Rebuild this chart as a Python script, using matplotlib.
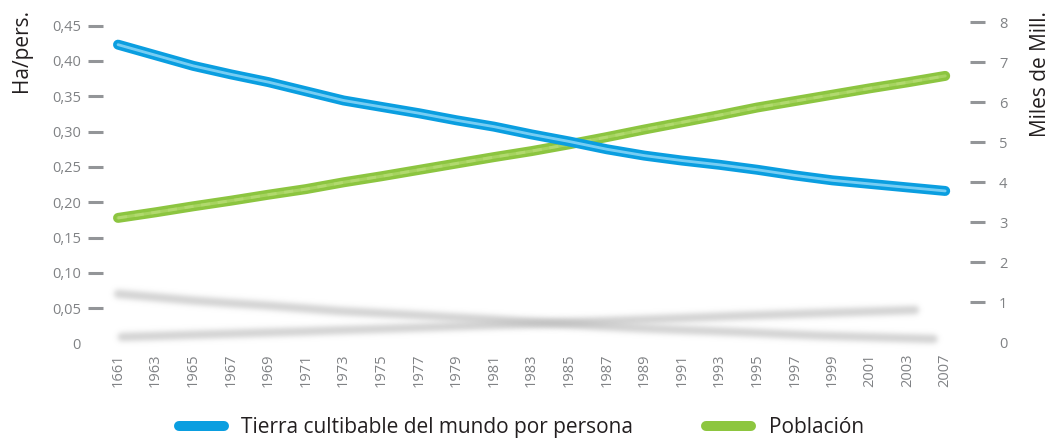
import numpy as np
import matplotlib
matplotlib.use("Agg")
import matplotlib.pyplot as plt
from matplotlib.ticker import FixedLocator, FixedFormatter
from matplotlib.lines import Line2D

plt.rcParams['font.family'] = ['Open Sans', 'DejaVu Sans']

# ---------------- data ----------------
years = ['1661', '1963', '1965', '1967', '1969', '1971', '1973', '1975', '1977',
         '1979', '1981', '1983', '1985', '1987', '1989', '1991', '1993', '1995',
         '1997', '1999', '2001', '2003', '2007']
tierra = [0.423, 0.408, 0.393, 0.381, 0.370, 0.357, 0.344, 0.335, 0.326,
          0.316, 0.307, 0.296, 0.286, 0.275, 0.266, 0.259, 0.253, 0.246,
          0.238, 0.231, 0.226, 0.221, 0.216]
poblacion = [3.11, 3.25, 3.40, 3.54, 3.69, 3.83, 4.00, 4.15, 4.31, 4.47,
             4.63, 4.78, 4.95, 5.13, 5.32, 5.50, 5.68, 5.87, 6.03, 6.19,
             6.35, 6.50, 6.66]
left_ticks = [0.05, 0.10, 0.15, 0.20, 0.25, 0.30, 0.35, 0.40, 0.45]
left_labels = ['0,05', '0,10', '0,15', '0,20', '0,25', '0,30', '0,35', '0,40', '0,45']
right_ticks = [1, 2, 3, 4, 5, 6, 7, 8]
right_labels = ['1', '2', '3', '4', '5', '6', '7', '8']
legend_labels = ['Tierra cultibable del mundo por persona', 'Población']

BLUE = '#0a9ee0'
BLUE_HI = '#8ad6f7'
GREEN = '#8cc540'
GREEN_HI = '#bde07c'
TICK = '#939598'
LABEL = '#808285'


class Blur:
    def __init__(self, sigma, rgb, peak):
        self.sigma = sigma
        self.rgb = rgb
        self.peak = peak

    def __call__(self, im, dpi):
        s = self.sigma * dpi / 100.0
        pad = int(3 * s) + 3
        a = np.pad(im[..., 3], pad)
        r = np.arange(-pad, pad + 1)
        k = np.exp(-0.5 * (r / s) ** 2)
        k /= k.sum()
        a = np.apply_along_axis(np.convolve, 0, a, k, mode='same')
        a = np.apply_along_axis(np.convolve, 1, a, k, mode='same')
        out = np.zeros(a.shape + (4,))
        out[..., 0] = self.rgb[0]
        out[..., 1] = self.rgb[1]
        out[..., 2] = self.rgb[2]
        out[..., 3] = np.clip(a * self.peak, 0, 1)
        return out, -pad, -pad


fig = plt.figure(figsize=(10.54, 4.41), dpi=100)
ax = fig.add_axes([103 / 1054, 97.4 / 441, 867 / 1054, 321.3 / 441])
ax2 = ax.twinx()
ax.set_zorder(2)
ax2.set_zorder(1)
ax.patch.set_visible(False)
ax2.patch.set_visible(False)

x = np.arange(len(years))
t = np.array(tierra)
p = np.array(poblacion)

# soft reflections
sh1, = ax.plot(x * 0.986, 0.308 * t - 0.060, color='k', lw=6, solid_capstyle='round', zorder=1)
sh1.set_agg_filter(Blur(2.6, (0.72, 0.72, 0.72), 0.62))
sh2, = ax2.plot(0.1 + x * 0.959, 0.19 * p - 0.4575, color='k', lw=6, solid_capstyle='round', zorder=1)
sh2.set_agg_filter(Blur(2.6, (0.72, 0.72, 0.72), 0.62))

# main lines
kw = dict(solid_capstyle='round', solid_joinstyle='round')
ax2.plot(x, p, color=GREEN, lw=7.2, zorder=3, **kw)
ax2.plot(x, p, color=GREEN_HI, lw=2.2, alpha=0.55, zorder=4, **kw)
ax2.plot(x, p, color=GREEN_HI, lw=2.2, alpha=0.5, dashes=(3, 2.5), zorder=4)
ax.plot(x, t, color=BLUE, lw=7.2, zorder=3, **kw)
ax.plot(x, t, color=BLUE_HI, lw=2.0, alpha=0.85, zorder=4, **kw)

# axes limits
ax.set_xlim(-0.40, 22.66)
ax.set_ylim(0, 321.3 / 706.7)
ax2.set_ylim(8.0 - 321.3 / 40.0, 8.0)

for a in (ax, ax2):
    for sp in a.spines.values():
        sp.set_visible(False)

ax.yaxis.set_major_locator(FixedLocator(left_ticks))
ax.yaxis.set_major_formatter(FixedFormatter(left_labels))
ax.yaxis.set_minor_locator(FixedLocator([0]))
ax.yaxis.set_minor_formatter(FixedFormatter(['0']))
ax.tick_params(axis='y', which='major', length=10.8, width=2.2, color=TICK,
               pad=5, labelsize=10.5, labelcolor=LABEL)
ax.tick_params(axis='y', which='minor', length=10.8, width=0, color=TICK,
               pad=5, labelsize=10.5, labelcolor=LABEL)

ax2.yaxis.set_major_locator(FixedLocator(right_ticks))
ax2.yaxis.set_major_formatter(FixedFormatter(right_labels))
ax2.yaxis.set_minor_locator(FixedLocator([0]))
ax2.yaxis.set_minor_formatter(FixedFormatter(['0']))
ax2.tick_params(axis='y', which='major', length=10.8, width=2.2, color=TICK,
                pad=10, labelsize=10.5, labelcolor=LABEL)
ax2.tick_params(axis='y', which='minor', length=10.8, width=0, color=TICK,
                pad=10, labelsize=10.5, labelcolor=LABEL)

ax.set_xticks(x)
ax.set_xticklabels(years, rotation=90, fontsize=10.5, color=LABEL)
ax.tick_params(axis='x', length=0, pad=7)

fig.text(21 / 1054, 1 - 9 / 441, 'Ha/pers.', rotation=90, ha='center', va='top',
         fontsize=15, color='#231f20')
fig.text(1041 / 1054, 1 - 11 / 441, 'Miles de Mill.', rotation=90, ha='center', va='top',
         fontsize=15, color='#231f20')

handles = [Line2D([], [], color=BLUE, lw=7.2, solid_capstyle='round'),
           Line2D([], [], color='#8dc63f', lw=7.2, solid_capstyle='round')]
fig.legend(handles, legend_labels, loc='center', bbox_to_anchor=(521.5 / 1054, 0.0295),
           ncol=2, frameon=False, fontsize=15, handlelength=2.16, handletextpad=0.84,
           columnspacing=3.5, labelcolor='#231f20')

fig.savefig('out.png', dpi=100)
